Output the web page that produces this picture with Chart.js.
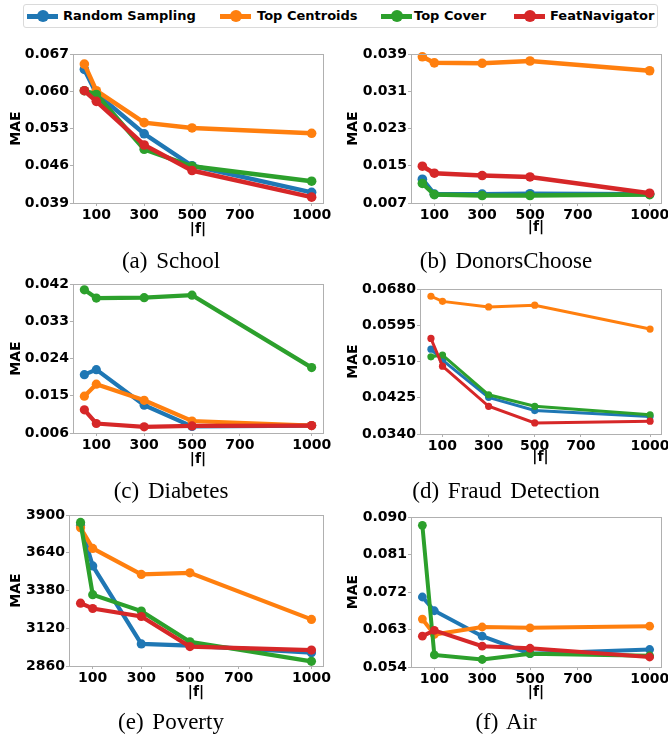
<!DOCTYPE html>
<html><head><meta charset="utf-8">
<script src="https://cdn.jsdelivr.net/npm/chart.js@4/dist/chart.umd.min.js"></script>
<style>
html,body{margin:0;padding:0;width:668px;height:738px;overflow:hidden;background:#fff;position:relative;}
canvas{position:absolute;}
.cap{position:absolute;font-family:"Liberation Serif","Times New Roman",serif;font-size:23px;line-height:23px;color:#000;text-align:center;width:334px;white-space:pre;word-spacing:3px;}
#legend{position:absolute;left:23px;top:4px;width:635px;height:24px;border:1px solid #dadada;border-radius:3px;box-sizing:border-box;}
.lt{position:absolute;top:0;height:22px;line-height:22px;font-family:"DejaVu Sans",sans-serif;font-weight:bold;font-size:13px;color:#000;white-space:nowrap;}
.ll{position:absolute;top:9px;height:5px;width:31px;}
.lc{position:absolute;top:5px;width:12px;height:12px;border-radius:50%;}
</style>
</head><body>
<div id="legend"></div>
<script>
const seriesNames = ['Random Sampling','Top Centroids','Top Cover','FeatNavigator'];
const colors = ['#1f77b4','#ff7f0e','#2ca02c','#d62728'];
const xs = [50,100,300,500,1000];
const xTicks = [100,300,500,700,1000];

// (a) School
const schoolRandom   = [0.0641,0.0596,0.0520,0.0460,0.0410];
const schoolCentroid = [0.0651,0.0601,0.0541,0.0531,0.0521];
const schoolCover    = [0.0601,0.0594,0.0491,0.0459,0.0431];
const schoolFeat     = [0.0601,0.0581,0.0499,0.0451,0.0401];
const schoolYLabels  = ['0.039','0.046','0.053','0.060','0.067'];

// (b) DonorsChoose
const donorsRandom   = [0.0121,0.0089,0.0089,0.0090,0.0089];
const donorsCentroid = [0.0384,0.0371,0.0370,0.0375,0.0354];
const donorsCover    = [0.0112,0.0088,0.0086,0.0086,0.0088];
const donorsFeat     = [0.0149,0.0134,0.0129,0.0126,0.0091];
const donorsYLabels  = ['0.007','0.015','0.023','0.031','0.039'];

// (c) Diabetes
const diabRandom   = [0.0201,0.0213,0.0127,0.0076,0.0078];
const diabCentroid = [0.0149,0.0178,0.0139,0.0089,0.0078];
const diabCover    = [0.0406,0.0386,0.0387,0.0393,0.0218];
const diabFeat     = [0.0116,0.0083,0.0075,0.0077,0.0078];
const diabYLabels  = ['0.006','0.015','0.024','0.033','0.042'];

// (d) Fraud Detection
const fraudRandom   = [0.0539,0.0513,0.0426,0.0395,0.0381];
const fraudCentroid = [0.0663,0.0651,0.0638,0.0642,0.0586];
const fraudCover    = [0.0521,0.0525,0.0432,0.0405,0.0385];
const fraudFeat     = [0.0564,0.0499,0.0405,0.0366,0.0370];
const fraudYLabels  = ['0.0340','0.0425','0.0510','0.0595','0.0680'];

// (e) Poverty
const povRandom   = [3830,3549,3012,3000,2952];
const povCentroid = [3812,3670,3491,3502,3181];
const povCover    = [3849,3351,3238,3027,2892];
const povFeat     = [3293,3256,3201,2994,2970];
const povYLabels  = ['2860','3120','3380','3640','3900'];

// (f) Air
const airRandom   = [0.0708,0.0675,0.0614,0.0572,0.0582];
const airCentroid = [0.0655,0.0618,0.0636,0.0634,0.0638];
const airCover    = [0.0880,0.0569,0.0558,0.0572,0.0567];
const airFeat     = [0.0614,0.0628,0.0590,0.0585,0.0564];
const airYLabels  = ['0.054','0.063','0.072','0.081','0.090'];

const panels = [
  {x0:0,   L:73,  T:54,  R:323, B:203, vals:[schoolRandom,schoolCentroid,schoolCover,schoolFeat], yl:schoolYLabels, lw:4.5, r:4.8, ytp:8,  xtp:15, cap:'(a) School', capTop:249},
  {x0:334, L:411, T:54,  R:661, B:203, vals:[donorsRandom,donorsCentroid,donorsCover,donorsFeat], yl:donorsYLabels, lw:4.5, r:4.8, ytp:11, xtp:17, cap:'(b) DonorsChoose', capTop:249},
  {x0:0,   L:73,  T:284, R:323, B:433, vals:[diabRandom,diabCentroid,diabCover,diabFeat], yl:diabYLabels, lw:4.2, r:4.6, ytp:8,  xtp:15, cap:'(c) Diabetes', capTop:479},
  {x0:334, L:420, T:289, R:661, B:434, vals:[fraudRandom,fraudCentroid,fraudCover,fraudFeat], yl:fraudYLabels, lw:3, r:3.6, ytp:11, xtp:18, cap:'(d) Fraud Detection', capTop:479},
  {x0:0,   L:69,  T:515, R:323, B:666, vals:[povRandom,povCentroid,povCover,povFeat], yl:povYLabels, lw:4.2, r:4.6, ytp:8,  xtp:15, cap:'(e) Poverty', capTop:710},
  {x0:334, L:411, T:517, R:661, B:667, vals:[airRandom,airCentroid,airCover,airFeat], yl:airYLabels, lw:4, r:4.4, ytp:11, xtp:16, cap:'(f) Air', capTop:710}
];

// legend
const legendPos = [[3,39],[196,233],[357,390],[490,526]];
const leg = document.getElementById('legend');
seriesNames.forEach((n,i)=>{
  const [mx,tx] = legendPos[i];
  const l = document.createElement('div'); l.className='ll'; l.style.left=mx+'px'; l.style.background=colors[i]; leg.appendChild(l);
  const c = document.createElement('div'); c.className='lc'; c.style.left=(mx+10)+'px'; c.style.background=colors[i]; leg.appendChild(c);
  const t = document.createElement('div'); t.className='lt'; t.style.left=tx+'px'; t.textContent=n; leg.appendChild(t);
});

const frame = {id:'frame', afterDraw(c){
  const a=c.chartArea, x=c.ctx; x.save(); x.strokeStyle='#b0b0b0'; x.lineWidth=1;
  x.strokeRect(Math.round(a.left)+0.5, Math.round(a.top)+0.5, Math.round(a.right-a.left), Math.round(a.bottom-a.top)); x.restore();
}};

Chart.defaults.font.family = "'DejaVu Sans', sans-serif";
const tickFont = {family:"'DejaVu Sans', sans-serif", weight:'bold', size:14};
const CW = 364, EXTRA_T = 20, EXTRA_B = 50;

panels.forEach(p=>{
  const cv = document.createElement('canvas');
  const w = CW, h = (p.B - p.T) + EXTRA_T + EXTRA_B;
  cv.width = w; cv.height = h;
  cv.style.left = p.x0+'px'; cv.style.top = (p.T-EXTRA_T)+'px';
  cv.style.width = w+'px'; cv.style.height = h+'px';
  document.body.appendChild(cv);
  const yVals = p.yl.map(Number);
  new Chart(cv.getContext('2d'), {
    type:'line',
    data:{datasets: seriesNames.map((n,i)=>({
      label:n, data: xs.map((x,j)=>({x:x, y:p.vals[i][j]})),
      borderColor:colors[i], backgroundColor:colors[i], pointBackgroundColor:colors[i],
      pointBorderWidth:0, pointRadius:p.r, borderWidth:p.lw, tension:0, order:4-i, clip:6
    }))},
    options:{
      responsive:false, animation:false, devicePixelRatio:1,
      layout:{padding:{left:0, top:EXTRA_T, right: w - (p.R - p.x0), bottom:0}},
      plugins:{legend:{display:false}, tooltip:{enabled:false}},
      scales:{
        x:{type:'linear', min:2.5, max:1047.5,
          afterBuildTicks:s=>{s.ticks = xTicks.map(v=>({value:v}));},
          afterFit:s=>{s.height = EXTRA_B;},
          ticks:{font:tickFont, color:'#000', padding:1, maxRotation:0, autoSkip:false, callback:v=>String(v)},
          grid:{drawOnChartArea:false, tickLength:3, color:'#b0b0b0'},
          border:{color:'#b0b0b0'},
          title:{display:true, text:'|f|', font:tickFont, color:'#000', padding:{top:0, bottom:p.xtp}}
        },
        y:{type:'linear', min:yVals[0], max:yVals[yVals.length-1],
          afterBuildTicks:s=>{s.ticks = yVals.map(v=>({value:v}));},
          afterFit:s=>{s.width = p.L - p.x0;},
          ticks:{font:tickFont, color:'#000', padding:1, autoSkip:false, callback:(v,idx)=>p.yl[idx]},
          grid:{drawOnChartArea:false, tickLength:3, color:'#b0b0b0'},
          border:{color:'#b0b0b0'},
          title:{display:true, text:'MAE', font:tickFont, color:'#000', padding:{top:p.ytp, bottom:0}}
        }
      }
    },
    plugins:[frame]
  });
  const cap = document.createElement('div'); cap.className='cap';
  cap.style.left = (p.x0 === 0 ? 4 : 339)+'px'; cap.style.top = p.capTop+'px';
  cap.textContent = p.cap; document.body.appendChild(cap);
});
</script>
</body></html>
